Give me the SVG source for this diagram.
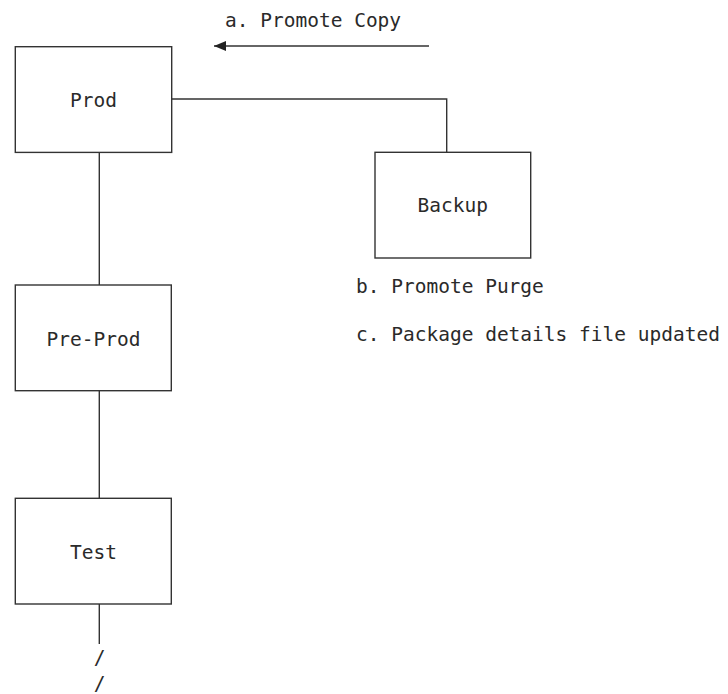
<svg xmlns="http://www.w3.org/2000/svg" width="728" height="694" viewBox="0 0 728 694">
<defs>
<style>
.box{fill:#fff;stroke:#333;stroke-width:1.4}
.ln{fill:none;stroke:#333;stroke-width:1.4}
text{font-family:"DejaVu Sans Mono","Liberation Mono",monospace;font-size:19.5px;fill:#2a2a2a}
.c{text-anchor:middle}
</style>
<marker id="ah" viewBox="0 0 12 10" refX="12" refY="5" markerWidth="12" markerHeight="10" markerUnits="userSpaceOnUse" orient="auto">
<path d="M0,0 L12,5 L0,10 Z" fill="#222"/>
</marker>
</defs>
<rect width="728" height="694" fill="#fff"/>
<g id="connectors">
<path class="ln" d="M171.7,99 H446.7 V152.3"/>
<path class="ln" d="M99.3,152.4 V285"/>
<path class="ln" d="M99.3,390.7 V498.3"/>
<path class="ln" d="M99.3,604 V644"/>
<path class="ln" d="M429,46 H214" marker-end="url(#ah)"/>
</g>
<g id="prod">
<rect class="box" x="15.3" y="46.7" width="156.4" height="105.7"/>
<text class="c" x="93.5" y="106.7">Prod</text>
</g>
<g id="backup">
<rect class="box" x="375" y="152.3" width="155.7" height="105.7"/>
<text class="c" x="452.8" y="212">Backup</text>
</g>
<g id="preprod">
<rect class="box" x="15.3" y="285" width="156" height="105.7"/>
<text class="c" x="93.5" y="346">Pre-Prod</text>
</g>
<g id="test">
<rect class="box" x="15.3" y="498.3" width="156" height="105.7"/>
<text class="c" x="93.5" y="559">Test</text>
</g>
<g id="labels">
<text x="225" y="27">a. Promote Copy</text>
<text x="356" y="293">b. Promote Purge</text>
<text x="356" y="341">c. Package details file updated</text>
<text class="c" x="99.7" y="664">/</text>
<text class="c" x="99.5" y="690">/</text>
</g>
</svg>
